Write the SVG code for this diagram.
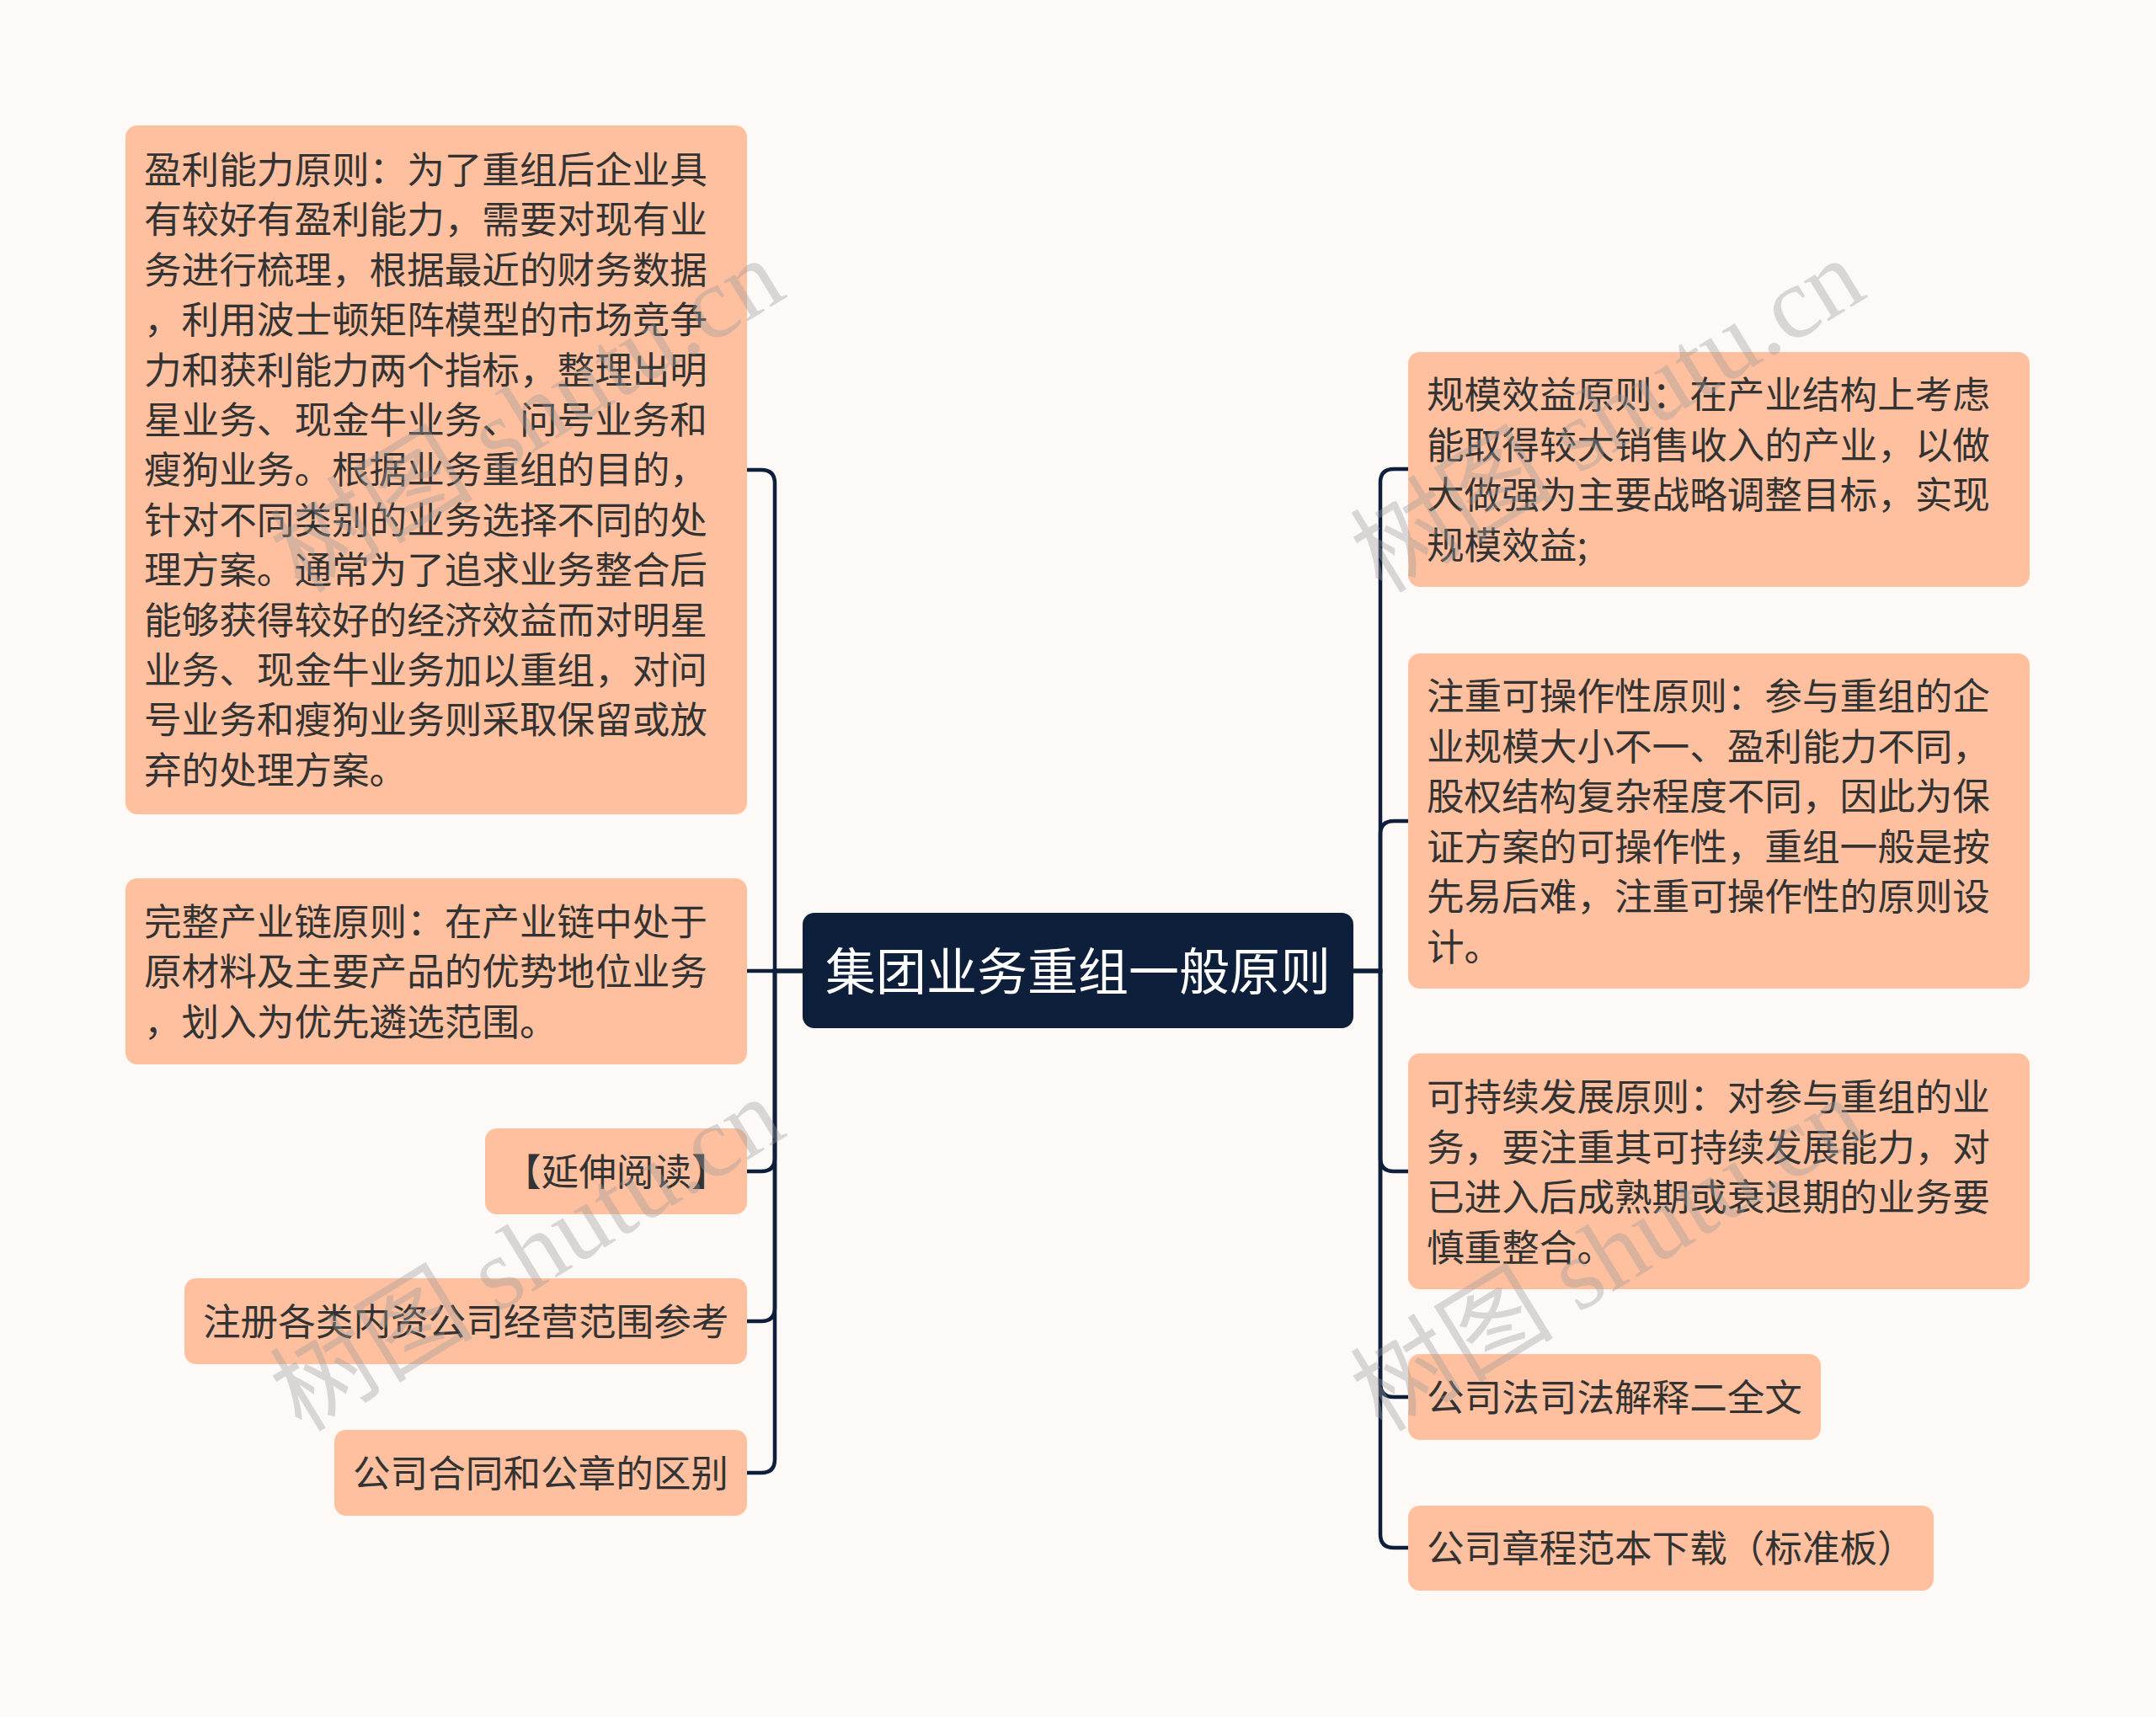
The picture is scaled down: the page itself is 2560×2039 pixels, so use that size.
<svg xmlns="http://www.w3.org/2000/svg" width="2560" height="2039" viewBox="0 0 2560 2039">
<style>
.bg{fill:#fdf9f7}
.box{fill:#ffc09f}
.t{font-family:"Noto Sans CJK SC","Noto Sans",sans-serif;font-size:44.6px;fill:#333333}
.ct{font-family:"Noto Sans CJK SC","Noto Sans",sans-serif;font-size:60px;fill:#ffffff;text-anchor:middle}
.edge{fill:none;stroke:#0e1f3b;stroke-width:4.5}
.wm{font-family:"Liberation Serif","Noto Sans CJK SC",serif;font-size:121px;fill:#9a9a9a;fill-opacity:0.38}
</style>
<rect class="bg" x="0" y="0" width="2560" height="2039"/>
<g id="connectors">
<path class="edge" d="M953 1153 H920 V574 Q920 558 904 558 H887"/>
<path class="edge" d="M953 1153 H887"/>
<path class="edge" d="M953 1153 H920 V1375 Q920 1391 904 1391 H887"/>
<path class="edge" d="M953 1153 H920 V1553 Q920 1569 904 1569 H887"/>
<path class="edge" d="M953 1153 H920 V1733 Q920 1749 904 1749 H887"/>
<path class="edge" d="M1607 1153 H1639 V573 Q1639 557 1655 557 H1672"/>
<path class="edge" d="M1607 1153 H1639 V991 Q1639 975 1655 975 H1672"/>
<path class="edge" d="M1607 1153 H1639 V1375 Q1639 1391 1655 1391 H1672"/>
<path class="edge" d="M1607 1153 H1639 V1643 Q1639 1659 1655 1659 H1672"/>
<path class="edge" d="M1607 1153 H1639 V1822 Q1639 1838 1655 1838 H1672"/>
</g>
<g id="center">
<rect x="953" y="1084" width="654" height="137" rx="14" fill="#0e1f3b"/>
<text class="ct" x="1280" y="1176">集团业务重组一般原则</text>
</g>
<g id="L1">
<rect class="box" x="149" y="149" width="738" height="818" rx="14"/>
<text class="t" x="171" y="218">盈利能力原则：为了重组后企业具</text>
<text class="t" x="171" y="277.4">有较好有盈利能力，需要对现有业</text>
<text class="t" x="171" y="336.8">务进行梳理，根据最近的财务数据</text>
<text class="t" x="171" y="396.2">，利用波士顿矩阵模型的市场竞争</text>
<text class="t" x="171" y="455.6">力和获利能力两个指标，整理出明</text>
<text class="t" x="171" y="515">星业务、现金牛业务、问号业务和</text>
<text class="t" x="171" y="574.4">瘦狗业务。根据业务重组的目的，</text>
<text class="t" x="171" y="633.8">针对不同类别的业务选择不同的处</text>
<text class="t" x="171" y="693.2">理方案。通常为了追求业务整合后</text>
<text class="t" x="171" y="752.6">能够获得较好的经济效益而对明星</text>
<text class="t" x="171" y="812">业务、现金牛业务加以重组，对问</text>
<text class="t" x="171" y="871.4">号业务和瘦狗业务则采取保留或放</text>
<text class="t" x="171" y="930.8">弃的处理方案。</text>
</g>
<g id="L2">
<rect class="box" x="149" y="1043" width="738" height="221" rx="14"/>
<text class="t" x="171" y="1110.5">完整产业链原则：在产业链中处于</text>
<text class="t" x="171" y="1170">原材料及主要产品的优势地位业务</text>
<text class="t" x="171" y="1229.5">，划入为优先遴选范围。</text>
</g>
<g id="L3">
<rect class="box" x="576" y="1340" width="311" height="102" rx="14"/>
<text class="t" x="598" y="1408">【延伸阅读】</text>
</g>
<g id="L4">
<rect class="box" x="219" y="1518" width="668" height="102" rx="14"/>
<text class="t" x="241" y="1586">注册各类内资公司经营范围参考</text>
</g>
<g id="L5">
<rect class="box" x="397" y="1698" width="490" height="102" rx="14"/>
<text class="t" x="419" y="1766">公司合同和公章的区别</text>
</g>
<g id="R1">
<rect class="box" x="1672" y="418" width="738" height="279" rx="14"/>
<text class="t" x="1694" y="485">规模效益原则：在产业结构上考虑</text>
<text class="t" x="1694" y="544.5">能取得较大销售收入的产业，以做</text>
<text class="t" x="1694" y="604">大做强为主要战略调整目标，实现</text>
<text class="t" x="1694" y="663.5">规模效益;</text>
</g>
<g id="R2">
<rect class="box" x="1672" y="776" width="738" height="398" rx="14"/>
<text class="t" x="1694" y="843">注重可操作性原则：参与重组的企</text>
<text class="t" x="1694" y="902.5">业规模大小不一、盈利能力不同，</text>
<text class="t" x="1694" y="962">股权结构复杂程度不同，因此为保</text>
<text class="t" x="1694" y="1021.5">证方案的可操作性，重组一般是按</text>
<text class="t" x="1694" y="1081">先易后难，注重可操作性的原则设</text>
<text class="t" x="1694" y="1140.5">计。</text>
</g>
<g id="R3">
<rect class="box" x="1672" y="1251" width="738" height="280" rx="14"/>
<text class="t" x="1694" y="1319">可持续发展原则：对参与重组的业</text>
<text class="t" x="1694" y="1378.5">务，要注重其可持续发展能力，对</text>
<text class="t" x="1694" y="1438">已进入后成熟期或衰退期的业务要</text>
<text class="t" x="1694" y="1497.5">慎重整合。</text>
</g>
<g id="R4">
<rect class="box" x="1672" y="1608" width="490" height="102" rx="14"/>
<text class="t" x="1694" y="1676">公司法司法解释二全文</text>
</g>
<g id="R5">
<rect class="box" x="1672" y="1788" width="624" height="101" rx="14"/>
<text class="t" x="1694" y="1855">公司章程范本下载（标准板）</text>
</g>
<g id="watermarks">
<text class="wm" transform="translate(358 706) rotate(-31.5)">树图 shutu.cn</text>
<text class="wm" transform="translate(358 1702) rotate(-31.5)">树图 shutu.cn</text>
<text class="wm" transform="translate(1641 706) rotate(-31.5)">树图 shutu.cn</text>
<text class="wm" transform="translate(1641 1702) rotate(-31.5)">树图 shutu.cn</text>
</g>
</svg>
